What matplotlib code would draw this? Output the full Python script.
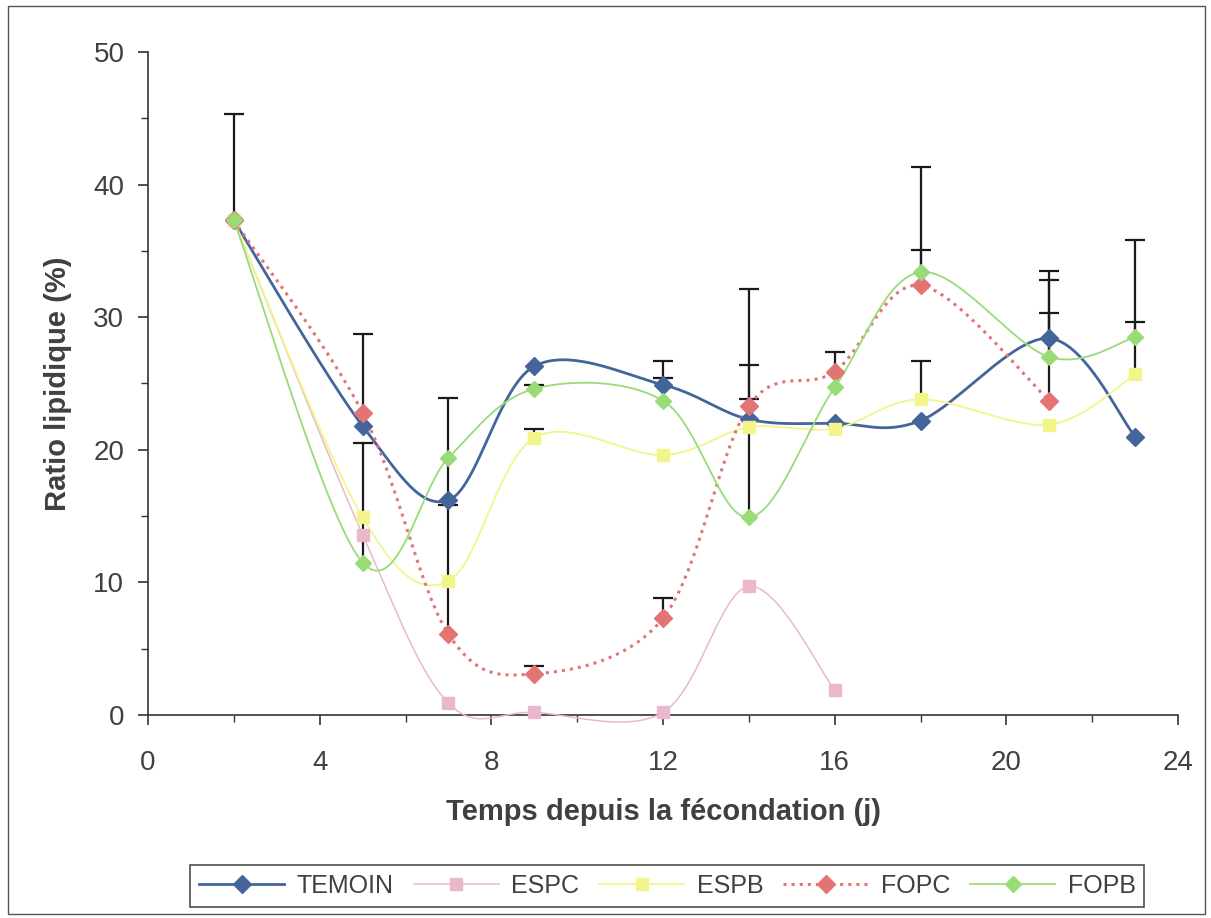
import numpy as np
import matplotlib
matplotlib.use("Agg")
import matplotlib.pyplot as plt
from matplotlib.lines import Line2D
from matplotlib.patches import Rectangle

plt.rcParams['font.family'] = ['Liberation Sans', 'DejaVu Sans']

# ---- data ----
days_temoin = [2, 5, 7, 9, 12, 14, 16, 18, 21, 23]
temoin = [37.3, 21.8, 16.2, 26.3, 24.9, 22.3, 22.0, 22.2, 28.4, 21.0]
temoin_err = [8.0, 6.9, 7.7, np.nan, 1.8, 9.8, np.nan, np.nan, 5.1, np.nan]

days_espc = [2, 5, 7, 9, 12, 14, 16]
espc = [37.3, 13.6, 0.9, 0.2, 0.2, 9.7, 1.9]

days_espb = [2, 5, 7, 9, 12, 14, 16, 18, 21, 23]
espb = [37.3, 14.9, 10.1, 20.9, 19.6, 21.7, 21.6, 23.8, 21.9, 25.7]
espb_err = [np.nan, np.nan, np.nan, 0.7, np.nan, np.nan, np.nan, 2.9, np.nan, 3.9]

days_fopc = [2, 5, 7, 9, 12, 14, 16, 18, 21]
fopc = [37.3, 22.8, 6.1, 3.1, 7.3, 23.3, 25.9, 32.4, 23.7]
fopc_err = [np.nan, np.nan, 9.7, 0.6, 1.5, 0.5, 1.5, 2.7, 6.6]

days_fopb = [2, 5, 7, 9, 12, 14, 16, 18, 21, 23]
fopb = [37.3, 11.5, 19.4, 24.6, 23.7, 14.9, 24.7, 33.4, 27.0, 28.5]
fopb_err = [np.nan, 9.0, np.nan, 0.3, 1.7, 11.5, np.nan, 7.9, 5.8, 7.3]

labels = ['TEMOIN', 'ESPC', 'ESPB', 'FOPC', 'FOPB']
x_ticks = [0, 4, 8, 12, 16, 20, 24]
y_ticks = [0, 10, 20, 30, 40, 50]

# ---- smoothing (Excel-like Bezier through points) ----
SX, SY = 42.9, 13.26  # pixels per data unit, for parametric smoothing


def smooth(x, y, n=40):
    P = np.column_stack([np.asarray(x, float) * SX, np.asarray(y, float) * SY])
    m = len(P)
    out = [P[0]]
    for i in range(m - 1):
        p0 = P[i - 1] if i > 0 else P[i]
        p1 = P[i]
        p2 = P[i + 1]
        p3 = P[i + 2] if i + 2 < m else P[i + 1]
        c1 = p1 + (p2 - p0) / 6.0
        c2 = p2 - (p3 - p1) / 6.0
        t = np.linspace(0, 1, n)[1:, None]
        pts = ((1 - t) ** 3) * p1 + 3 * ((1 - t) ** 2) * t * c1 + 3 * (1 - t) * t ** 2 * c2 + t ** 3 * p2
        out.extend(pts)
    out = np.array(out)
    return out[:, 0] / SX, out[:, 1] / SY


TXT = '#404040'
fig = plt.figure(figsize=(12.11, 9.18), dpi=100)
ax = fig.add_axes([0.1222, 0.2211, 0.9728 - 0.1222, 0.9434 - 0.2211])

series = [
    (days_temoin, temoin, temoin_err, '#44649c', 'D', '-', 2.0, 9),
    (days_espc, espc, None, '#eab8cc', 's', '-', 1.1, 8),
    (days_espb, espb, espb_err, '#f3f58a', 's', '-', 1.3, 9),
    (days_fopc, fopc, fopc_err, '#e27474', 'D', ':', 2.2, 9),
    (days_fopb, fopb, fopb_err, '#98dc78', 'D', '-', 1.3, 8),
]

handles = []
for (xd, yd, err, col, mk, ls, lw, ms), lab in zip(series, labels):
    if err is not None:
        e = np.array(err, float)
        eb = ax.errorbar(xd, yd, yerr=[np.zeros_like(e), e], fmt='none', ecolor='#1a1a1a',
                         elinewidth=1.6, capsize=7, capthick=1.6, zorder=2)
        caps = eb.lines[1]
        if len(caps) == 2:
            caps[0].set_visible(False)

for (xd, yd, err, col, mk, ls, lw, ms), lab in zip(series, labels):
    sx, sy = smooth(xd, yd)
    ax.plot(sx, sy, color=col, lw=lw, ls=ls, zorder=3, clip_on=False)
    ax.plot(xd, yd, ls='none', marker=mk, ms=ms, color=col, mec=col, zorder=4, clip_on=False)
    handles.append(Line2D([], [], color=col, lw=lw, ls=ls, marker=mk, ms=ms, mec=col))

ax.set_xlim(0, 24)
ax.set_ylim(0, 50)
ax.set_xticks(x_ticks)
ax.set_yticks(y_ticks)
ax.set_xticks(np.arange(2, 24, 4), minor=True)
ax.set_yticks(np.arange(5, 50, 10), minor=True)
for s in ['top', 'right']:
    ax.spines[s].set_visible(False)
for s in ['left', 'bottom']:
    ax.spines[s].set_color('#333333')
    ax.spines[s].set_linewidth(1.2)
ax.tick_params(axis='both', which='major', direction='out', length=7, width=1.2,
               colors='#333333', labelsize=20, labelcolor=TXT)
ax.tick_params(axis='y', which='major', pad=10)
ax.tick_params(axis='x', which='major', pad=18)
ax.tick_params(axis='both', which='minor', direction='out', length=5, width=1.0, colors='#333333')
ax.set_ylabel('Ratio lipidique (%)', fontsize=21, fontweight='bold', color=TXT)
ax.set_xlabel('Temps depuis la fécondation (j)', fontsize=21, fontweight='bold', color=TXT)
ax.yaxis.set_label_coords((58 - 148) / 1030, 0.5)
ax.xaxis.set_label_coords(0.5, (715 - 812) / 663)
ax.yaxis.label.set_va('center')
ax.xaxis.label.set_va('center')

leg = fig.legend(handles, labels, loc='center', bbox_to_anchor=(0.551, 0.035), ncol=5,
                 fontsize=18, frameon=True, fancybox=False, edgecolor='#222222',
                 handlelength=3.4, columnspacing=0.8, handletextpad=0.5, borderpad=0.35)
leg.get_frame().set_linewidth(1.2)
for t in leg.get_texts():
    t.set_color(TXT)

fig.patches.append(Rectangle((0.007, 0.004), 0.988, 0.99, transform=fig.transFigure,
                             fill=False, edgecolor='#555555', lw=1.0))

fig.savefig('out.png', dpi=100)
